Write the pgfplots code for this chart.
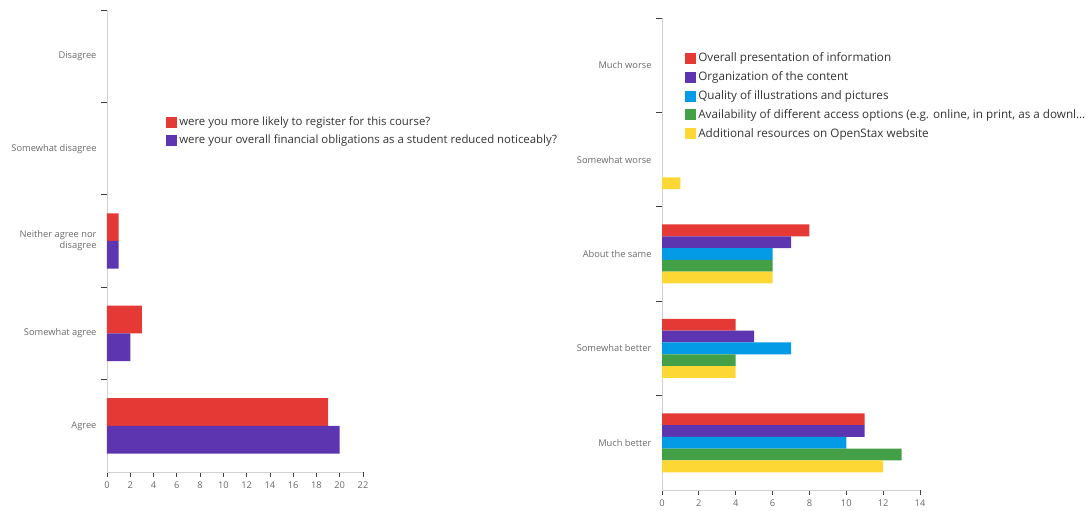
\documentclass[border=0pt]{standalone}
\usepackage{fontspec}
\setmainfont{Open Sans}
\usepackage{pgfplots}
\pgfplotsset{compat=1.18}
\definecolor{cRed}{HTML}{E53935}
\definecolor{cPurple}{HTML}{5E35B1}
\definecolor{cBlue}{HTML}{039BE5}
\definecolor{cGreen}{HTML}{43A047}
\definecolor{cYellow}{HTML}{FDD835}
\definecolor{cLabel}{HTML}{6A6A6A}
\definecolor{cText}{HTML}{333333}
\begin{document}
\begin{tikzpicture}
\useasboundingbox (0,0) rectangle (1090pt,511pt);
\pgfplotsset{
  mystyle/.style={
    scale only axis, xbar,
    axis x line=bottom, axis y line=left,
    axis line style={draw=black!18, -},
    enlargelimits=false,
    xmin=0, ymin=-0.5, ymax=4.5,
    ytick={0,...,4},
    minor ytick={0.5,1.5,2.5,3.5,4.5},
    tick align=outside,
    major tick length=5pt,
    minor tick length=6pt,
    ytick style={draw=none},
    minor y tick style={draw=black!75, line width=0.8pt},
    xtick style={draw=black!75, line width=0.8pt},
    /pgf/number format/assume math mode=true,
    tick label style={font=\fontsize{9.3}{11}\selectfont, text=cLabel},
    yticklabel style={align=right, xshift=-2pt},
    xticklabel style={yshift=-1.5pt},
    legend style={draw=none, fill=none, text=cText,
      cells={anchor=west}, anchor=north west},
    legend image code/.code={\path[##1,draw=none] (0pt,-5.5pt) rectangle (11pt,5.5pt);},
  }
}
\begin{axis}[mystyle,
  at={(107pt,39pt)}, anchor=south west,
  width=256pt, height=462pt,
  xmax=22, xtick={0,2,...,22},
  yticklabels={Agree,Somewhat agree,{Neither agree nor\\disagree},Somewhat disagree,Disagree},
  bar width=0.3,
  legend style={at={(0.219,0.777)}, font=\fontsize{11.4}{13}\selectfont, row sep=3.5pt},
]
\addplot[fill=cRed, draw=none, bar shift=0.15] coordinates {(19,0) (3,1) (1,2)};
\addplot[fill=cPurple, draw=none, bar shift=-0.15] coordinates {(20,0) (2,1) (1,2)};
\legend{were you more likely to register for this course?, were your overall financial obligations as a student reduced noticeably?}
\end{axis}
\begin{axis}[mystyle,
  at={(662pt,21pt)}, anchor=south west,
  width=258pt, height=472pt,
  xmax=14, xtick={0,2,...,14},
  yticklabels={Much better,Somewhat better,About the same,Somewhat worse,Much worse},
  bar width=0.125,
  legend style={at={(0.078,0.935)}, font=\fontsize{11.7}{13}\selectfont, row sep=4.5pt},
]
\addplot[fill=cRed, draw=none, bar shift=0.25] coordinates {(11,0) (4,1) (8,2)};
\addplot[fill=cPurple, draw=none, bar shift=0.125] coordinates {(11,0) (5,1) (7,2)};
\addplot[fill=cBlue, draw=none, bar shift=0] coordinates {(10,0) (7,1) (6,2)};
\addplot[fill=cGreen, draw=none, bar shift=-0.125] coordinates {(13,0) (4,1) (6,2)};
\addplot[fill=cYellow, draw=none, bar shift=-0.25] coordinates {(12,0) (4,1) (6,2) (1,3)};
\legend{Overall presentation of information, Organization of the content, Quality of illustrations and pictures, {Availability of different access options (e.g. online, in print, as a downl\ldots}, Additional resources on OpenStax website}
\end{axis}
\end{tikzpicture}
\end{document}
